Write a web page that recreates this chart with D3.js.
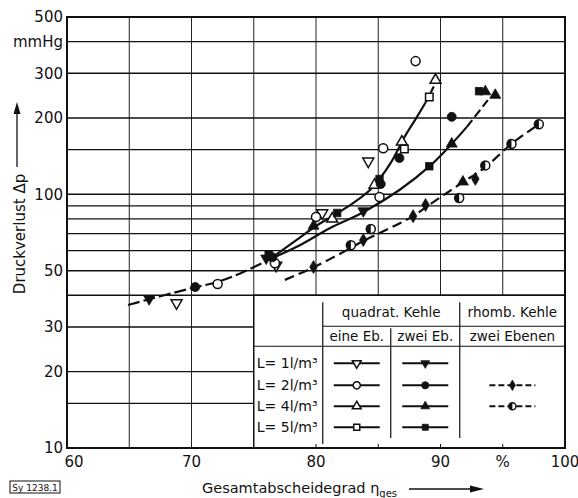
<!DOCTYPE html>
<html>
<head>
<meta charset="utf-8">
<script src="https://cdn.jsdelivr.net/npm/d3@7"></script>
<style>
  body { margin: 0; background: #fff; }
  text { font-family: "DejaVu Sans", sans-serif; fill: #111; }
</style>
</head>
<body>
<section></section>
<script>
"use strict";

const w = 578;
const h = 498;

// axis ticks and grid
const xGrid = [65, 70, 75, 80, 85, 90, 95];
const xLabelValues = [60, 70, 80, 90, 95, 100];
const xLabelTexts = ["60", "70", "80", "90", "%", "100"];
const yGrid = [15, 20, 30, 40, 50, 60, 70, 80, 90, 100, 150, 200, 300, 400, 500];
const yLabelValues = [500, 400, 300, 200, 100, 50, 30, 20, 10];
const yLabelTexts = ["500", "mmHg", "300", "200", "100", "50", "30", "20", "10"];

// measured points (efficiency %, pressure loss mmHg)
const eineL1 = [[68.8, 37.3], [76.8, 52.5], [80.5, 84.4], [84.2, 135]];
const eineL2 = [[72.1, 44.3], [76.7, 53.5], [80.0, 81.4], [85.1, 97.6], [85.4, 152], [88.0, 335]];
const eineL4 = [[81.3, 80], [84.7, 108.8], [86.9, 161], [89.6, 282]];
const eineL5 = [[87.1, 151], [89.1, 242]];
const zweiL1 = [[66.6, 38.7], [76.0, 56], [83.8, 86]];
const zweiL2 = [[70.3, 43.1], [76.5, 56.5], [85.2, 109.8], [86.7, 139], [90.9, 202]];
const zweiL4 = [[79.8, 75], [90.9, 158], [91.8, 112], [93.6, 254], [94.4, 246]];
const zweiL5 = [[76.2, 58], [81.7, 84.4], [85.1, 114.9], [89.1, 129], [93.1, 255]];
const rhombL2 = [[79.8, 51.7], [83.8, 66], [87.8, 82], [88.8, 90.8], [92.8, 115]];
const rhombL4 = [[82.8, 63], [84.4, 73], [91.5, 96.7], [93.6, 130], [95.7, 158], [97.9, 189]];

// fitted curves
const curveLow = [[64.9, 36.6], [66.6, 38.6], [68.5, 40.8], [70.3, 43], [72.1, 45.2], [74, 49], [76.3, 55.5]];
const curveZwei = [[76.3, 55.5], [78.7, 63], [81.1, 73.5], [83.8, 85], [86.7, 104], [89.2, 130], [90.9, 158], [92.1, 184]];
const curveZweiTop = [[92.1, 184], [93.8, 235]];
const curveEine = [[76.3, 55.5], [78.7, 67.5], [80, 75], [81.5, 83], [83, 92.5], [84.5, 106], [86, 133], [87.1, 168], [88, 198], [88.8, 230]];
const curveEineTop = [[88.8, 230], [89.7, 280]];
const curveRhomb = [[77.5, 46], [79.8, 51.5], [82.8, 61.5], [83.8, 65.5], [87.7, 81.5], [88.9, 89.5], [91.6, 110], [93.6, 128], [95.7, 158], [97.9, 189]];

const rowLabels = ["L= 1l/m³", "L= 2l/m³", "L= 4l/m³", "L= 5l/m³"];

const svg = d3.select("section").append("svg").attr("width", w).attr("height", h);

const x = d3.scaleLinear().domain([60, 100]).range([67, 565]);
const y = d3.scaleLog().domain([10, 500]).range([448, 17]);

// grid
svg.append("g")
  .selectAll("line")
  .data(xGrid)
  .enter()
  .append("line")
  .attr("x1", (d) => x(d)).attr("x2", (d) => x(d))
  .attr("y1", y(500)).attr("y2", y(10))
  .attr("stroke", "#222").attr("stroke-width", 1);

svg.append("g")
  .selectAll("line")
  .data(yGrid)
  .enter()
  .append("line")
  .attr("x1", x(60)).attr("x2", x(100))
  .attr("y1", (d) => y(d)).attr("y2", (d) => y(d))
  .attr("stroke", "#111").attr("stroke-width", 1.4);

// legend background hides grid
const lx0 = x(75), lx1 = x(100), ly0 = y(40), ly1 = y(10);
svg.append("rect")
  .attr("x", lx0).attr("y", ly0)
  .attr("width", lx1 - lx0).attr("height", ly1 - ly0)
  .attr("fill", "#fff").attr("stroke", "#111").attr("stroke-width", 1.5);

// frame
svg.append("rect")
  .attr("x", x(60)).attr("y", y(500))
  .attr("width", x(100) - x(60)).attr("height", y(10) - y(500))
  .attr("fill", "none").attr("stroke", "#111").attr("stroke-width", 2);

// small ticks on x axis under the legend
svg.append("g")
  .selectAll("line")
  .data([80, 85, 90, 95])
  .enter()
  .append("line")
  .attr("x1", (d) => x(d)).attr("x2", (d) => x(d))
  .attr("y1", y(10) - 4).attr("y2", y(10))
  .attr("stroke", "#111").attr("stroke-width", 1);

// axis labels
svg.append("g")
  .selectAll("text")
  .data(yLabelValues)
  .enter()
  .append("text")
  .attr("x", 63)
  .attr("y", (d) => y(d))
  .attr("dy", "0.36em")
  .attr("text-anchor", "end")
  .style("font-size", "15px")
  .text((d, i) => yLabelTexts[i]);

svg.append("g")
  .selectAll("text")
  .data(xLabelValues)
  .enter()
  .append("text")
  .attr("x", (d) => (d === 60 ? x(d) + 7 : x(d)))
  .attr("y", 467)
  .attr("text-anchor", "middle")
  .style("font-size", "15px")
  .text((d, i) => xLabelTexts[i]);

// y title with arrow
svg.append("text")
  .attr("transform", "translate(25, 234) rotate(-90)")
  .attr("text-anchor", "middle")
  .style("font-size", "15px")
  .text("Druckverlust  Δp");

svg.append("line")
  .attr("x1", 17).attr("x2", 17).attr("y1", 167).attr("y2", 112)
  .attr("stroke", "#111").attr("stroke-width", 1.3);
svg.append("path")
  .attr("d", "M17,102 L13.5,114 L20.5,114 Z")
  .attr("fill", "#111");

// x title with arrow
const xt = svg.append("text")
  .attr("x", 202).attr("y", 493)
  .style("font-size", "14.5px");
xt.append("tspan").text("Gesamtabscheidegrad  η");
xt.append("tspan").attr("dy", 4).style("font-size", "10px").text("ges");

svg.append("line")
  .attr("x1", 409).attr("x2", 472).attr("y1", 489).attr("y2", 489)
  .attr("stroke", "#111").attr("stroke-width", 1.3);
svg.append("path")
  .attr("d", "M484,489 L470,485.5 L470,492.5 Z")
  .attr("fill", "#111");

// drawing number
svg.append("rect")
  .attr("x", 10).attr("y", 481).attr("width", 50).attr("height", 12)
  .attr("fill", "none").attr("stroke", "#111").attr("stroke-width", 1);
svg.append("text")
  .attr("x", 35).attr("y", 490.5)
  .attr("text-anchor", "middle")
  .style("font-size", "9px")
  .text("Sy 1238.1");

// curves
const line = d3.line()
  .x((d) => x(d[0]))
  .y((d) => y(d[1]))
  .curve(d3.curveCatmullRom);

const curves = [
  { pts: curveLow, dash: "12,4" },
  { pts: curveZwei, dash: null },
  { pts: curveZweiTop, dash: "9,4" },
  { pts: curveEine, dash: null },
  { pts: curveEineTop, dash: "7,4" },
  { pts: curveRhomb, dash: "10,5" },
];

svg.append("g")
  .selectAll("path")
  .data(curves)
  .enter()
  .append("path")
  .attr("d", (d) => line(d.pts))
  .attr("fill", "none")
  .attr("stroke", "#111")
  .attr("stroke-width", 2.2)
  .attr("stroke-dasharray", (d) => d.dash);

// markers
const drawMarker = (g, type, filled, cx, cy, s) => {
  const stroke = "#111";
  const fill = filled ? "#111" : "#fff";
  if (type === "half") {
    const r = 4.5 * s;
    g.append("circle").attr("cx", cx).attr("cy", cy).attr("r", r)
      .attr("fill", "#fff").attr("stroke", stroke).attr("stroke-width", 1.5);
    g.append("path")
      .attr("d", `M${cx},${cy - r} A${r},${r} 0 0 0 ${cx},${cy + r} Z`)
      .attr("fill", stroke);
    return;
  }
  const sym = {
    circle: d3.symbolCircle,
    square: d3.symbolSquare,
    diamond: d3.symbolDiamond,
    up: d3.symbolTriangle,
    down: d3.symbolTriangle,
  }[type];
  const size = {
    circle: 64, square: 56, diamond: 48, up: 52, down: 52,
  }[type] * s * s;
  g.append("path")
    .attr("d", d3.symbol().type(sym).size(size)())
    .attr("transform", `translate(${cx},${cy})` + (type === "down" ? " rotate(180)" : ""))
    .attr("fill", fill)
    .attr("stroke", stroke)
    .attr("stroke-width", filled ? 0.8 : 1.5);
};

const seriesList = [
  { data: eineL1, type: "down", filled: false },
  { data: eineL2, type: "circle", filled: false },
  { data: eineL4, type: "up", filled: false },
  { data: eineL5, type: "square", filled: false },
  { data: zweiL1, type: "down", filled: true },
  { data: zweiL2, type: "circle", filled: true },
  { data: zweiL4, type: "up", filled: true },
  { data: zweiL5, type: "square", filled: true },
  { data: rhombL2, type: "diamond", filled: true },
  { data: rhombL4, type: "half", filled: false },
];

const markG = svg.append("g");
seriesList.forEach((s) => {
  s.data.forEach((p) => drawMarker(markG, s.type, s.filled, x(p[0]), y(p[1]), 1));
});

// legend table
const lg = svg.append("g");
const tline = (x1, y1, x2, y2) =>
  lg.append("line").attr("x1", x1).attr("y1", y1).attr("x2", x2).attr("y2", y2)
    .attr("stroke", "#111").attr("stroke-width", 1.2);

const c1 = lx0 + 69, c2 = lx0 + 137, c3 = lx0 + 206;
tline(c1, ly0 + 7, c1, ly1 - 4);
tline(c2, ly0 + 33, c2, ly1 - 10);
tline(c3, ly0 + 7, c3, ly1 - 10);
tline(c1, ly0 + 31, lx1, ly0 + 31);
tline(lx0, ly0 + 51, lx1, ly0 + 51);

const ltext = (tx, ty, t, anchor, fs) =>
  lg.append("text").attr("x", tx).attr("y", ty)
    .attr("text-anchor", anchor || "middle")
    .style("font-size", fs || "13.5px").text(t);

ltext((c1 + c3) / 2, ly0 + 22, "quadrat. Kehle");
ltext((c3 + lx1) / 2, ly0 + 22, "rhomb. Kehle");
ltext((c1 + c2) / 2, ly0 + 46, "eine Eb.");
ltext((c2 + c3) / 2, ly0 + 46, "zwei Eb.");
ltext((c3 + lx1) / 2, ly0 + 46, "zwei Ebenen");

const rowY = [68, 90, 111, 132].map((d) => ly0 + d);
rowLabels.forEach((t, i) => ltext(lx0 + 3, rowY[i] + 5, t, "start", "14px"));

const sampleTypes = ["down", "circle", "up", "square"];
const sample = (cx, cy, type, filled, dash) => {
  lg.append("line")
    .attr("x1", cx - 23).attr("x2", cx + 23).attr("y1", cy).attr("y2", cy)
    .attr("stroke", "#111").attr("stroke-width", 2)
    .attr("stroke-dasharray", dash);
  drawMarker(lg, type, filled, cx, cy, 0.8);
};

sampleTypes.forEach((t, i) => {
  sample((c1 + c2) / 2, rowY[i], t, false, null);
  sample((c2 + c3) / 2, rowY[i], t, true, null);
});
sample((c3 + lx1) / 2, rowY[1], "diamond", true, "6,3");
sample((c3 + lx1) / 2, rowY[2], "half", false, "6,3");
</script>
</body>
</html>
